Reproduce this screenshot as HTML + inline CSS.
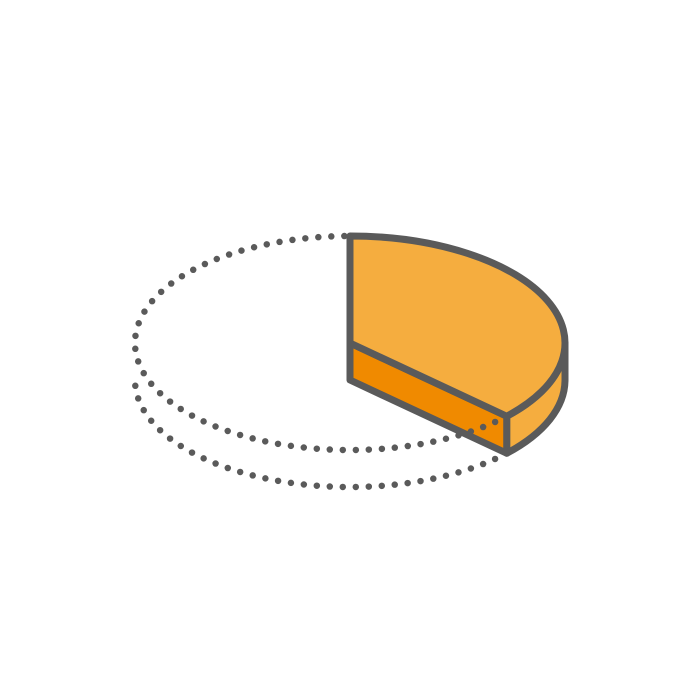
<!DOCTYPE html>
<html><head><meta charset="utf-8">
<style>html,body{margin:0;padding:0;background:#fff;width:700px;height:675px;overflow:hidden}</style>
</head><body>
<svg id="chart" width="700" height="675" viewBox="0 0 700 675" xmlns="http://www.w3.org/2000/svg"></svg>
<script>
const categories = ["highlighted", "rest"];
const values = [37, 63];

const NS = "http://www.w3.org/2000/svg";
const svg = document.getElementById("chart");
const cx = 350, cy = 343, rx = 215, ry = 107, depth = 37;
const total = values.reduce((a, b) => a + b, 0);
const a0 = -Math.PI / 2;
const a1 = a0 + 2 * Math.PI * values[0] / total;
function pt(a, dy) { return [cx + rx * Math.cos(a), cy + ry * Math.sin(a) + (dy || 0)]; }
function mk(d, fill, name, extra) {
  const p = document.createElementNS(NS, "path");
  p.setAttribute("d", d);
  p.setAttribute("fill", fill);
  p.setAttribute("stroke", "#5a5a5a");
  p.setAttribute("stroke-width", "7");
  p.setAttribute("stroke-linejoin", "round");
  p.setAttribute("stroke-linecap", "round");
  if (extra) for (const k in extra) p.setAttribute(k, extra[k]);
  
  
  svg.appendChild(p);
  return p;
}
const S = pt(a0), E = pt(a1), Ed = pt(a1, depth);
const large = (a1 - a0) > Math.PI ? 1 : 0;

const sStart = Math.max(a0, 0), sEnd = Math.min(a1, Math.PI);
if (sEnd > sStart) {
  const p1 = pt(sStart), p2 = pt(sEnd), p3 = pt(sEnd, depth), p4 = pt(sStart, depth);
  mk(`M${p1} A${rx},${ry} 0 0 1 ${p2} L${p3} A${rx},${ry} 0 0 0 ${p4} Z`, "#f5ad3f", "slice-outer-side");
}
mk(`M${cx},${cy} L${E} L${Ed} L${cx},${cy + depth} Z`, "#f08a00", "slice-cut-face");
mk(`M${cx},${cy} L${S} A${rx},${ry} 0 ${large} 1 ${E} Z`, "#f5ad3f", "slice-top-face");

const dots = { "stroke-dasharray": "0 13", "stroke-width": "6.5" };
mk(`M${E} A${rx},${ry} 0 ${1 - large} 1 ${S}`, "none", "rest-top-outline", dots);
const L = pt(Math.PI, depth);
if (a1 < Math.PI) mk(`M${Ed} A${rx},${ry} 0 0 1 ${L}`, "none", "rest-bottom-outline", dots);
</script>
</body></html>
